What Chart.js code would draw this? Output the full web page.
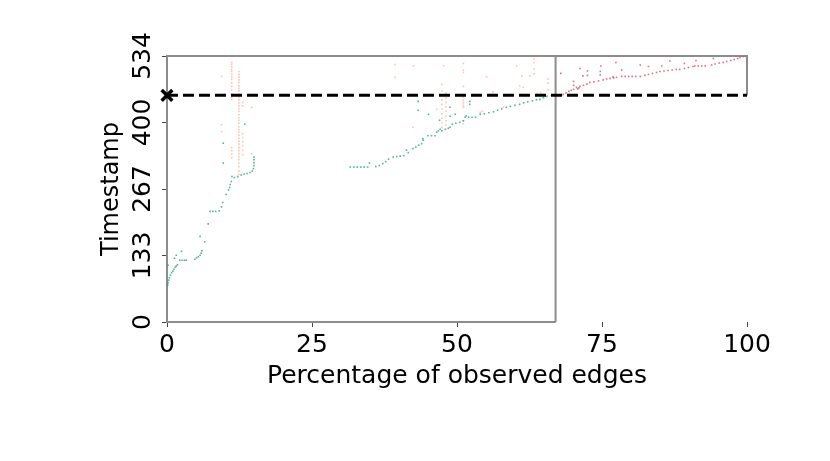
<!DOCTYPE html>
<html>
<head>
<meta charset="utf-8">
<script src="https://cdn.jsdelivr.net/npm/chart.js@4.4.1/dist/chart.umd.min.js"></script>
<style>
  html, body { margin: 0; padding: 0; background: #fff; }
  #wrap { width: 830px; height: 461px; }
</style>
</head>
<body>
<div id="wrap"><canvas id="chart" width="830" height="461"></canvas></div>
<script>
// axis setup
const xTickValues = [0, 25, 50, 75, 100];
const xTickLabels = ['0', '25', '50', '75', '100'];
const yTickValues = [0, 133.5, 267, 400.5, 534];
const yTickLabels = ['0', '133', '267', '400', '534'];
const yMax = 534;
const splitPct = 67;      // vertical separator
const thresholdT = 455;   // dashed threshold timestamp

// green: edges observed before the split (curve)
const greenX = [0.1, 0.2, 0.3, 0.4, 0.6, 0.8, 1.0, 1.2, 1.4, 1.6, 1.8, 0.2, 1.3, 1.6, 2.5, 2.2, 2.6, 3.0, 3.3,
  4.8, 5.1, 5.4, 5.7, 5.9, 6.0, 6.5, 5.7, 7.1, 7.4, 7.9, 8.4, 9.0, 9.4, 9.6, 10.2, 10.6, 10.8, 10.9, 11.1, 11.2,
  11.6, 12.2, 12.8, 13.3, 13.8, 14.3, 14.7, 14.9, 15.0, 15.0, 15.0, 15.0, 9.7, 9.7, 13.4,
  31.6, 32.2, 32.8, 33.4, 34.0, 34.6, 34.9, 36.0, 36.6, 37.2, 37.7, 38.2, 39.0, 39.6, 40.2, 40.8, 41.3, 41.6,
  42.4, 42.9, 43.4, 43.9, 44.1, 44.2, 45.0, 45.6, 46.2, 46.5, 46.8, 47.1, 47.4, 48.0, 48.5, 48.8, 49.2, 49.8,
  50.5, 51.1, 51.4, 52.0, 52.6, 53.2, 54.0, 54.7, 55.5, 56.3, 57.0, 57.7, 58.5, 59.2, 60.0, 60.8, 61.5, 62.2,
  63.0, 63.7, 64.3, 64.9, 65.5, 66.3,
  43.3, 43.3, 45.1, 48.8, 52.2, 52.2, 48.8, 47.0, 49.7, 51.6];
const greenY = [74, 79, 84, 89, 94, 99, 102, 106, 110, 112, 115, 114, 128, 134, 142, 124, 124, 124, 124,
  126, 129, 131, 134, 138, 143, 161, 172, 197, 222, 222, 222, 223, 231, 240, 256, 265, 270, 276, 282, 292,
  290, 292, 295, 297, 298, 300, 303, 308, 314, 320, 326, 331, 319, 359, 397,
  311, 311, 311, 311, 311, 311, 319, 312, 314, 318, 322, 327, 331, 332, 333, 334, 345, 340,
  348, 351, 355, 358, 368, 365, 374, 374, 374, 381, 384, 387, 384, 387, 389, 391, 397, 399,
  401, 404, 411, 411, 411, 411, 417, 418, 420, 422, 425, 428, 431, 433, 435, 437, 440, 442,
  444, 446, 447, 450, 453, 455,
  443, 425, 417, 431, 443, 437, 413, 405, 417, 414];

// orange: edges re-observed (vertical streaks)
const orangeX = [11.15, 11.15, 11.15, 11.15, 11.15, 11.15, 11.15, 11.15, 11.15, 11.15, 11.15, 11.15, 11.15,
  11.15, 11.15, 11.15, 11.15, 11.15,
  12.4, 12.4, 12.4, 12.4, 12.4, 12.4, 12.4, 12.4, 12.4, 12.4, 12.4, 12.4, 12.4, 12.4, 12.4, 12.4, 12.4, 12.4,
  12.4, 12.4, 12.4, 12.4, 12.4, 12.4, 12.4, 12.4, 12.4, 12.4, 12.4, 12.4, 12.4, 12.4, 12.4, 12.4, 12.4,
  13.05, 13.05, 13.05, 13.05, 13.05, 13.05, 13.05, 13.05,
  9.4, 9.4, 9.4, 14.6, 14.6,
  47.4, 47.4, 47.4, 47.4, 47.4, 47.4, 47.4, 47.4, 47.4, 47.4, 48.1, 48.1, 48.1, 48.1, 48.1, 48.1, 48.1, 48.1,
  51.1, 51.1, 51.1, 51.1, 51.1, 51.1, 51.1, 51.1, 51.1, 51.1, 51.1,
  39.3, 39.3, 42.5, 47.7, 42.4, 46.5, 55.1, 56.2, 60.3, 61.2, 60.8, 61.4, 62.6, 63.3, 63.3, 63.3, 63.3,
  65.7, 65.7, 65.7, 63.8, 64.4, 54.0, 54.4, 58.0];
const orangeY = [521, 517, 512, 507, 503, 497, 492, 487, 480, 473, 466, 458, 451, 447,
  350, 344, 337, 330,
  503, 497, 492, 486, 481, 474, 469, 464, 457, 451, 446, 440, 434, 428, 423, 416, 410, 405, 399,
  392, 386, 381, 375, 369, 363, 357, 350, 344, 338, 332, 326, 319, 312, 303, 296,
  441, 434, 378, 370, 362, 354, 345, 336,
  493, 396, 382, 431, 338,
  477, 464, 455, 446, 437, 428, 418, 409, 400, 391, 460, 450, 441, 432, 423, 413, 404, 395,
  519, 506, 501, 473, 451, 445, 440, 435, 431, 404, 398,
  517, 491, 514, 514, 391, 427, 492, 462, 514, 494, 474, 471, 494, 528, 521, 508, 498,
  488, 480, 466, 459, 460, 421, 423, 431];

// red: edges observed after the split
const redX = [68.0, 68.3, 68.8, 69.3, 69.7, 70.1, 70.6, 71.2, 71.8, 72.4, 72.9, 73.6, 74.4, 75.2, 75.8, 76.4,
  77.5, 78.4, 79.0, 79.6, 80.2, 80.8, 81.6, 82.4, 83.0, 83.7, 84.4, 85.0, 85.7, 86.4, 87.1, 87.8, 88.4, 89.2,
  89.9, 90.7, 91.0, 91.6, 92.2, 92.8, 93.9, 94.5, 95.2, 95.9, 96.5, 97.2, 97.8, 98.4, 98.8, 99.3,
  67.9, 70.1, 70.1, 71.2, 71.7, 72.5, 72.5, 74.8, 74.7, 74.7, 77.4, 78.4, 81.6, 83.0, 85.3, 86.7, 89.2, 91.2,
  94.2, 70.8, 71.0, 76.9, 77.0];
const redY = [455, 457, 460, 463, 465, 467, 471, 473, 475, 478, 481, 482, 484, 486, 488, 489,
  491, 493, 493, 493, 493, 493, 493, 495, 497, 499, 501, 503, 504, 505, 506, 507, 507, 509,
  511, 513, 514, 514, 514, 514, 516, 518, 520, 521, 523, 525, 527, 529, 531, 533,
  499, 483, 475, 509, 494, 504, 495, 514, 503, 496, 521, 506, 516, 513, 514, 524, 519, 525,
  529, 468, 470, 492, 490];

function toPoints(xs, ys) {
  return xs.map((x, i) => ({ x: x, y: ys[i] }));
}

Chart.defaults.font.family = "'DejaVu Sans', sans-serif";
Chart.defaults.color = '#000';

// gray frame made of the left block and the small upper-right block
const framePlugin = {
  id: 'frame',
  beforeDatasetsDraw(chart) {
    const { ctx, scales: { x, y } } = chart;
    const px = v => x.getPixelForValue(v);
    const py = v => y.getPixelForValue(v);
    ctx.save();
    ctx.strokeStyle = '#8c8c8c';
    ctx.lineWidth = 2;
    ctx.beginPath();
    ctx.moveTo(px(splitPct), py(0));
    ctx.lineTo(px(0), py(0));
    ctx.lineTo(px(0), py(yMax));
    ctx.lineTo(px(100), py(yMax));
    ctx.lineTo(px(100), py(thresholdT));
    ctx.moveTo(px(splitPct), py(0));
    ctx.lineTo(px(splitPct), py(yMax));
    ctx.stroke();
    ctx.restore();
  }
};

const dotStyle = { pointStyle: 'rect', pointRadius: 1.15, pointBorderWidth: 0, showLine: false };

new Chart(document.getElementById('chart').getContext('2d'), {
  type: 'scatter',
  data: {
    datasets: [
      Object.assign({ data: toPoints(orangeX, orangeY), pointBackgroundColor: 'rgba(252,141,98,0.5)', order: 5 }, dotStyle),
      Object.assign({ data: toPoints(greenX, greenY), pointBackgroundColor: 'rgba(27,158,119,0.75)', order: 4 }, dotStyle),
      Object.assign({ data: toPoints(redX, redY), pointBackgroundColor: 'rgba(208,68,96,0.75)', order: 3 }, dotStyle),
      {
        data: [{ x: 0, y: thresholdT }, { x: 100, y: thresholdT }],
        showLine: true, borderColor: '#000', borderWidth: 3, borderDash: [11, 5],
        pointRadius: 0, order: 2, clip: false
      },
      {
        data: [{ x: 0, y: thresholdT }],
        pointStyle: 'crossRot', pointRadius: 7.5, pointBorderWidth: 3.5,
        pointBorderColor: '#000', order: 1, clip: false
      }
    ]
  },
  options: {
    responsive: false,
    animation: false,
    devicePixelRatio: 1,
    layout: { padding: { top: 56, right: 83, left: 0, bottom: 0 } },
    plugins: { legend: { display: false }, tooltip: { enabled: false } },
    scales: {
      x: {
        type: 'linear', min: 0, max: 100,
        afterBuildTicks: s => { s.ticks = xTickValues.map(v => ({ value: v })); },
        afterFit: s => { s.height = 139; },
        ticks: { autoSkip: false, maxRotation: 0, padding: 3, font: { size: 25 },
          callback: (v, i) => xTickLabels[i] },
        grid: { drawOnChartArea: false, tickLength: 5, color: '#444' },
        border: { display: false },
        title: { display: true, text: 'Percentage of observed edges', font: { size: 25 },
          padding: { top: 0, bottom: 70 } }
      },
      y: {
        type: 'linear', min: 0, max: yMax,
        afterBuildTicks: s => { s.ticks = yTickValues.map(v => ({ value: v })); },
        afterFit: s => { s.width = 167; },
        ticks: { autoSkip: false, minRotation: 90, maxRotation: 90, crossAlign: 'center', padding: -5,
          font: { size: 25 }, callback: (v, i) => yTickLabels[i] },
        grid: { drawOnChartArea: false, tickLength: 5, color: '#444' },
        border: { display: false },
        title: { display: true, text: 'Timestamp', font: { size: 24 },
          padding: { top: 97, bottom: 0 } }
      }
    }
  },
  plugins: [framePlugin]
});
</script>
</body>
</html>
